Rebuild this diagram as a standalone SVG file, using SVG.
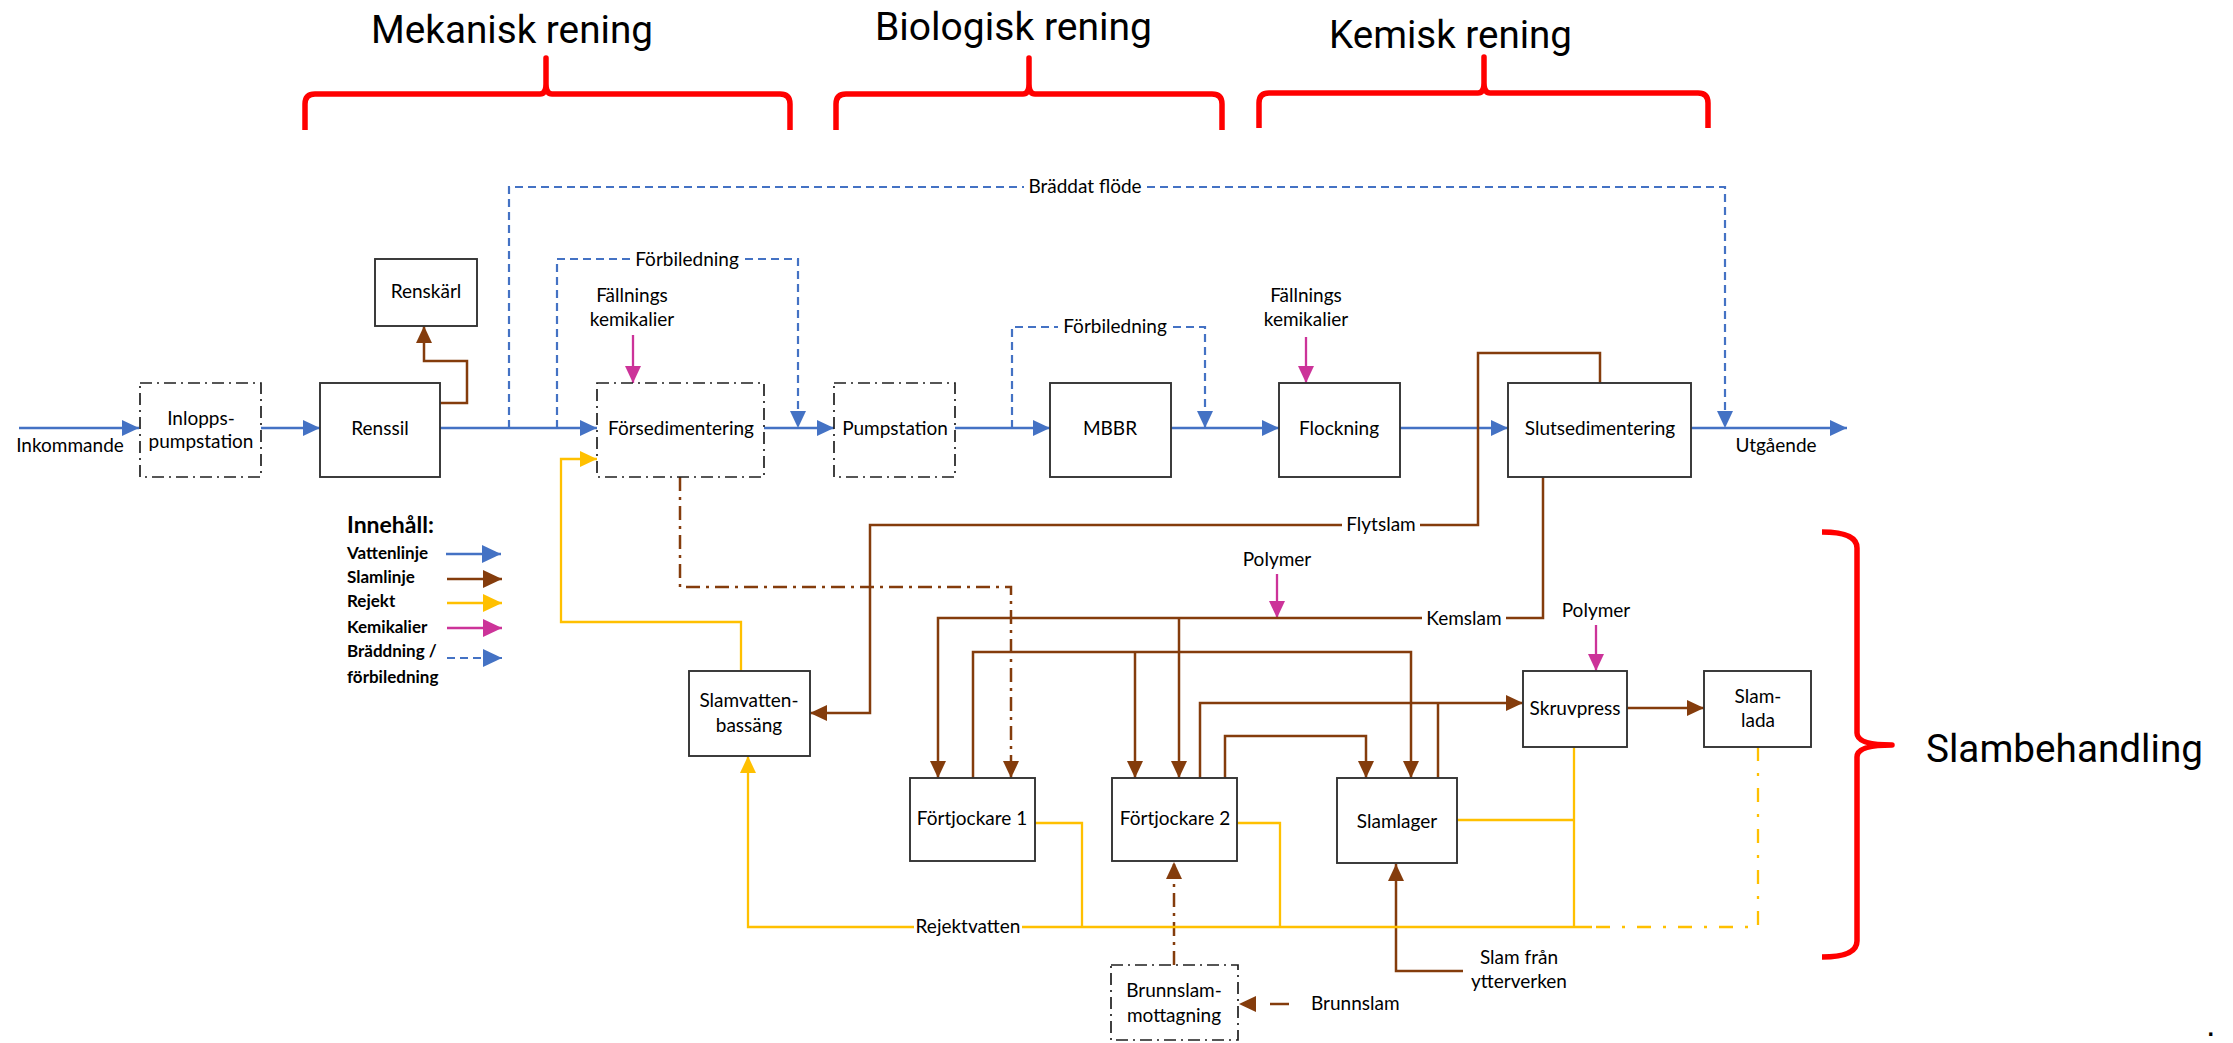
<svg xmlns="http://www.w3.org/2000/svg" width="2233" height="1043" viewBox="0 0 2233 1043">
  <style>
    .box{fill:#fff;stroke:#333;stroke-width:1.9}
    .dd{fill:#fff;stroke:#1f1f1f;stroke-width:1.7;stroke-dasharray:12 5 2 5}
    .t{font-family:Lato,"Liberation Sans",sans-serif;font-size:19px;fill:#000;text-anchor:middle}
    .ts{text-anchor:start}
    .lg{font-family:Lato,"Liberation Sans",sans-serif;font-size:17px;font-weight:bold;fill:#000}
    .lgh{font-size:23px}
    .hdr{font-family:Roboto,"Liberation Sans",sans-serif;font-size:38px;fill:#000}
    .br{fill:none;stroke:#FF0000;stroke-width:5.5;stroke-linejoin:round}
    .w{fill:none;stroke:#4472C4;stroke-width:2.6}
    .wd{fill:none;stroke:#4472C4;stroke-width:2.2;stroke-dasharray:8 5}
    .s{fill:none;stroke:#843C0C;stroke-width:2.5}
    .sd{fill:none;stroke:#843C0C;stroke-width:2.5;stroke-dasharray:14 6 3 6}
    .r{fill:none;stroke:#FFC000;stroke-width:2.3}
    .rd{fill:none;stroke:#FFC000;stroke-width:2.3;stroke-dasharray:14 12 3 12}
    .k{fill:none;stroke:#CC3399;stroke-width:2.3}
  </style>
  <defs>
    <marker id="aW" markerUnits="userSpaceOnUse" markerWidth="18" markerHeight="16" refX="17" refY="8" orient="auto"><path d="M0,0L17,8L0,16z" fill="#4472C4"/></marker>
    <marker id="aS" markerUnits="userSpaceOnUse" markerWidth="18" markerHeight="16" refX="17" refY="8" orient="auto"><path d="M0,0L17,8L0,16z" fill="#843C0C"/></marker>
    <marker id="aR" markerUnits="userSpaceOnUse" markerWidth="18" markerHeight="16" refX="17" refY="8" orient="auto"><path d="M0,0L17,8L0,16z" fill="#FFC000"/></marker>
    <marker id="aK" markerUnits="userSpaceOnUse" markerWidth="18" markerHeight="16" refX="17" refY="8" orient="auto"><path d="M0,0L17,8L0,16z" fill="#CC3399"/></marker>
    <marker id="lW" markerUnits="userSpaceOnUse" markerWidth="20" markerHeight="18" refX="19" refY="9" orient="auto"><path d="M0,0L19,9L0,18z" fill="#4472C4"/></marker>
    <marker id="lS" markerUnits="userSpaceOnUse" markerWidth="20" markerHeight="18" refX="19" refY="9" orient="auto"><path d="M0,0L19,9L0,18z" fill="#843C0C"/></marker>
    <marker id="lR" markerUnits="userSpaceOnUse" markerWidth="20" markerHeight="18" refX="19" refY="9" orient="auto"><path d="M0,0L19,9L0,18z" fill="#FFC000"/></marker>
    <marker id="lK" markerUnits="userSpaceOnUse" markerWidth="20" markerHeight="18" refX="19" refY="9" orient="auto"><path d="M0,0L19,9L0,18z" fill="#CC3399"/></marker>
  </defs>

  <!-- process stage headers with braces -->
  <g id="stages">
    <text class="hdr" x="371" y="43" textLength="282" lengthAdjust="spacingAndGlyphs">Mekanisk rening</text>
    <path class="br" d="M305,130V104Q305,94 315,94H540Q546,94 546,84V58V84Q546,94 552,94H780Q790,94 790,104V130"/>
    <text class="hdr" x="875" y="40" textLength="277" lengthAdjust="spacingAndGlyphs">Biologisk rening</text>
    <path class="br" d="M836,130V104Q836,94 846,94H1023Q1029,94 1029,84V58V84Q1029,94 1035,94H1212Q1222,94 1222,104V130"/>
    <text class="hdr" x="1329" y="48" textLength="243" lengthAdjust="spacingAndGlyphs">Kemisk rening</text>
    <path class="br" d="M1259,128V103Q1259,93 1269,93H1478Q1484,93 1484,83V57V83Q1484,93 1490,93H1698Q1708,93 1708,103V128"/>
    <path class="br" d="M1822,532Q1857,532 1857,548V733Q1857,745 1892,745Q1857,745 1857,757V941Q1857,957 1822,957"/>
    <text class="hdr" x="1926" y="762" textLength="277" lengthAdjust="spacingAndGlyphs">Slambehandling</text>
  </g>

  <!-- connectors -->
  <g id="connectors">
    <!-- water line -->
    <path class="w" d="M19,428H139" marker-end="url(#aW)"/>
    <path class="w" d="M261,428H320" marker-end="url(#aW)"/>
    <path class="w" d="M440,428H597" marker-end="url(#aW)"/>
    <path class="w" d="M764,428H834" marker-end="url(#aW)"/>
    <path class="w" d="M955,428H1050" marker-end="url(#aW)"/>
    <path class="w" d="M1171,428H1279" marker-end="url(#aW)"/>
    <path class="w" d="M1400,428H1508" marker-end="url(#aW)"/>
    <path class="w" d="M1691,428H1847" marker-end="url(#aW)"/>
    <!-- overflow and bypass -->
    <path class="wd" d="M509,428V187H1024"/>
    <path class="wd" d="M1147,187H1725V428" marker-end="url(#aW)"/>
    <path class="wd" d="M557,428V259H630"/>
    <path class="wd" d="M745,259H798V428" marker-end="url(#aW)"/>
    <path class="wd" d="M1012,428V327H1058"/>
    <path class="wd" d="M1173,327H1205V428" marker-end="url(#aW)"/>
    <!-- chemicals -->
    <path class="k" d="M633,335V383" marker-end="url(#aK)"/>
    <path class="k" d="M1306,337V383" marker-end="url(#aK)"/>
    <path class="k" d="M1277,574V618" marker-end="url(#aK)"/>
    <path class="k" d="M1596,625V671" marker-end="url(#aK)"/>
    <!-- sludge line -->
    <path class="s" d="M440,403H467V361H424V326" marker-end="url(#aS)"/>
    <path class="s" d="M1600,383V353H1478V525H1420"/>
    <path class="s" d="M1342,525H870V713H810" marker-end="url(#aS)"/>
    <path class="s" d="M1543,477V618H1506"/>
    <path class="s" d="M1422,618H938V778" marker-end="url(#aS)"/>
    <path class="s" d="M1179,618V778" marker-end="url(#aS)"/>
    <path class="s" d="M973,778V652H1411V778" marker-end="url(#aS)"/>
    <path class="s" d="M1135,652V778" marker-end="url(#aS)"/>
    <path class="s" d="M1200,778V703H1523" marker-end="url(#aS)"/>
    <path class="s" d="M1438,778V703"/>
    <path class="s" d="M1225,778V736H1366V778" marker-end="url(#aS)"/>
    <path class="s" d="M1627,708H1704" marker-end="url(#aS)"/>
    <path class="s" d="M1463,971H1396V864" marker-end="url(#aS)"/>
    <path class="sd" d="M680,477V587H1011V778" marker-end="url(#aS)"/>
    <path class="sd" d="M1174,965V862" marker-end="url(#aS)"/>
    <path class="s" d="M1289,1004H1239" stroke-dasharray="19 40" marker-end="url(#aS)"/>
    <!-- reject water -->
    <path class="r" d="M741,671V622H561V459H597" marker-end="url(#aR)"/>
    <path class="r" d="M1592,927H1022"/>
    <path class="r" d="M914,927H748V756" marker-end="url(#aR)"/>
    <path class="r" d="M1035,823H1082V927"/>
    <path class="r" d="M1237,823H1280V927"/>
    <path class="r" d="M1457,820H1574"/>
    <path class="r" d="M1574,747V927"/>
    <path class="rd" d="M1758,747V927H1592"/>
  </g>

  <!-- nodes -->
  <g id="n-inlopp"><rect class="dd" x="140" y="383" width="121" height="94"/><text class="t" x="201" y="425">Inlopps-</text><text class="t" x="201" y="448">pumpstation</text></g>
  <g id="n-renssil"><rect class="box" x="320" y="383" width="120" height="94"/><text class="t" x="380" y="435">Renssil</text></g>
  <g id="n-renskarl"><rect class="box" x="375" y="259" width="102" height="67"/><text class="t" x="426" y="298">Renskärl</text></g>
  <g id="n-forsed"><rect class="dd" x="597" y="383" width="167" height="94"/><text class="t" x="681" y="435">Försedimentering</text></g>
  <g id="n-pump"><rect class="dd" x="834" y="383" width="121" height="94"/><text class="t" x="895" y="435">Pumpstation</text></g>
  <g id="n-mbbr"><rect class="box" x="1050" y="383" width="121" height="94"/><text class="t" x="1110" y="435">MBBR</text></g>
  <g id="n-flock"><rect class="box" x="1279" y="383" width="121" height="94"/><text class="t" x="1339" y="435">Flockning</text></g>
  <g id="n-slutsed"><rect class="box" x="1508" y="383" width="183" height="94"/><text class="t" x="1600" y="435">Slutsedimentering</text></g>
  <g id="n-slamvatten"><rect class="box" x="689" y="671" width="121" height="85"/><text class="t" x="749" y="707">Slamvatten-</text><text class="t" x="749" y="732">bassäng</text></g>
  <g id="n-fortj1"><rect class="box" x="910" y="778" width="125" height="83"/><text class="t" x="972" y="825">Förtjockare 1</text></g>
  <g id="n-fortj2"><rect class="box" x="1112" y="778" width="125" height="83"/><text class="t" x="1175" y="825">Förtjockare 2</text></g>
  <g id="n-slamlager"><rect class="box" x="1337" y="778" width="120" height="85"/><text class="t" x="1397" y="828">Slamlager</text></g>
  <g id="n-skruvpress"><rect class="box" x="1523" y="671" width="104" height="76"/><text class="t" x="1575" y="715">Skruvpress</text></g>
  <g id="n-slamlada"><rect class="box" x="1704" y="671" width="107" height="76"/><text class="t" x="1758" y="703">Slam-</text><text class="t" x="1758" y="727">lada</text></g>
  <g id="n-brunnslam"><rect class="dd" x="1111" y="965" width="127" height="75"/><text class="t" x="1174" y="997">Brunnslam-</text><text class="t" x="1174" y="1022">mottagning</text></g>

  <!-- connector labels -->
  <g id="labels">
    <text class="t" x="70" y="452">Inkommande</text>
    <text class="t" x="1776" y="452">Utgående</text>
    <text class="t" x="1085" y="193">Bräddat flöde</text>
    <text class="t" x="687" y="266">Förbiledning</text>
    <text class="t" x="1115" y="333">Förbiledning</text>
    <text class="t" x="632" y="302">Fällnings</text>
    <text class="t" x="632" y="326">kemikalier</text>
    <text class="t" x="1306" y="302">Fällnings</text>
    <text class="t" x="1306" y="326">kemikalier</text>
    <text class="t" x="1381" y="531">Flytslam</text>
    <text class="t" x="1277" y="566">Polymer</text>
    <text class="t" x="1464" y="625">Kemslam</text>
    <text class="t" x="1596" y="617">Polymer</text>
    <text class="t" x="968" y="933">Rejektvatten</text>
    <text class="t" x="1519" y="964">Slam från</text>
    <text class="t" x="1519" y="988">ytterverken</text>
    <text class="t ts" x="1311" y="1010">Brunnslam</text>
  </g>

  <!-- legend -->
  <g id="legend">
    <text class="lg lgh" x="347" y="533">Innehåll:</text>
    <text class="lg" x="347" y="559">Vattenlinje</text>
    <text class="lg" x="347" y="583">Slamlinje</text>
    <text class="lg" x="347" y="607">Rejekt</text>
    <text class="lg" x="347" y="633">Kemikalier</text>
    <text class="lg" x="347" y="657">Bräddning /</text>
    <text class="lg" x="347" y="683">förbiledning</text>
    <path class="w" d="M446,554H501" marker-end="url(#lW)"/>
    <path class="s" d="M447,579H502" marker-end="url(#lS)"/>
    <path class="r" d="M447,603H502" marker-end="url(#lR)"/>
    <path class="k" d="M447,628H502" marker-end="url(#lK)"/>
    <path class="wd" d="M447,658H502" stroke-dasharray="11 7" marker-end="url(#lW)"/>
  </g>

  <text x="2206" y="1036" font-family="Liberation Sans, sans-serif" font-size="34" fill="#000">.</text>
</svg>
